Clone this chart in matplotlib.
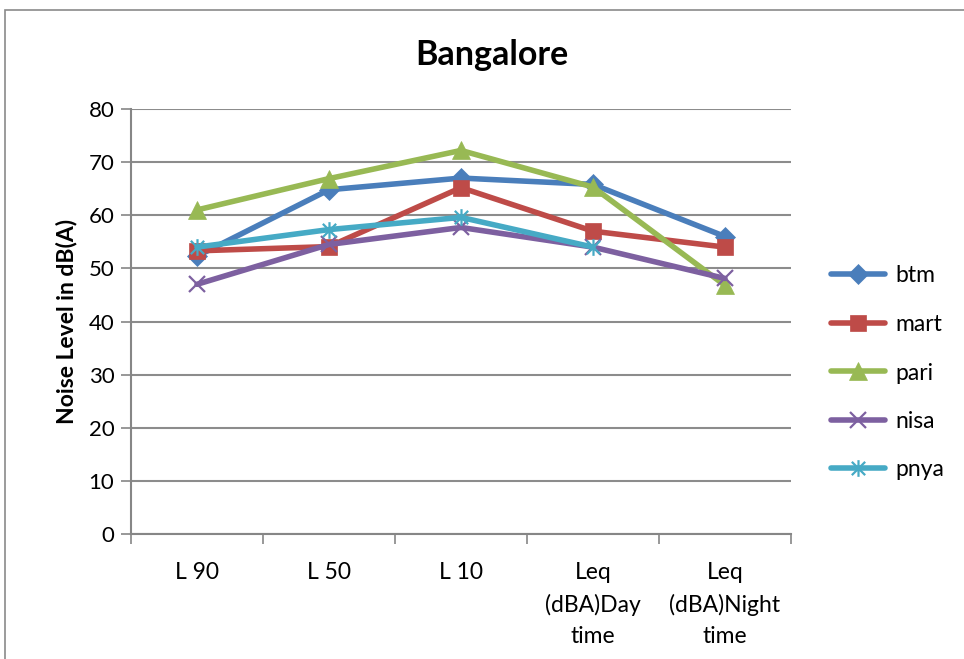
import matplotlib.pyplot as plt
from matplotlib.patches import Rectangle
from matplotlib.path import Path

categories = ['L 90', 'L 50', 'L 10', 'Leq\n(dBA)Day\ntime', 'Leq\n(dBA)Night\ntime']

btm = [52.3, 64.8, 67.0, 65.8, 56.0]
mart = [53.3, 54.1, 65.2, 57.0, 54.0]
pari = [61.0, 66.9, 72.2, 65.3, 46.8]
nisa = [47.0, 54.5, 57.7, 54.0, 48.1]
pnya = [54.0, 57.3, 59.6, 54.0]

plt.rcParams['font.family'] = ['Lato', 'DejaVu Sans']

# Excel-style star: vertical stroke plus an X
star = Path([(0, -1), (0, 1), (-0.8, -0.8), (0.8, 0.8), (-0.8, 0.8), (0.8, -0.8)],
            [Path.MOVETO, Path.LINETO, Path.MOVETO, Path.LINETO, Path.MOVETO, Path.LINETO])

series = [
    ('btm', btm, '#4A7EBB', 'D', 10.5),
    ('mart', mart, '#BE4B48', 's', 11.5),
    ('pari', pari, '#98B954', '^', 12.5),
    ('nisa', nisa, '#7D60A0', 'x', 12),
    ('pnya', pnya, '#46AAC5', star, 12),
]

fig = plt.figure(figsize=(9.64, 6.59), dpi=100)
ax = fig.add_axes([131 / 964, 1 - 534 / 659, 660 / 964, 425 / 659])

fig.patches.append(Rectangle((5 / 964, -0.1), 1.2, 1.1 - 10 / 659, transform=fig.transFigure,
                             fill=False, edgecolor='#8a8a8a', lw=1.2))

x = list(range(len(categories)))
for name, vals, color, marker, ms in series:
    thin = marker in ('x',) or isinstance(marker, Path)
    ax.plot(x[:len(vals)], vals, color=color, lw=4, marker=marker, markersize=ms,
            markeredgewidth=1.6 if thin else 0.5, markeredgecolor=color,
            markerfacecolor=color, label=name, solid_capstyle='round', zorder=3)

ax.set_xlim(-0.5, len(categories) - 0.5)
ax.set_ylim(0, 80)
ax.set_yticks(range(0, 81, 10))
ax.set_xticks(x)
ax.set_xticklabels(categories, fontsize=16.5, linespacing=1.6, va='top')
ax.set_xticks([i - 0.5 for i in range(len(categories) + 1)], minor=True)
ax.tick_params(axis='x', which='major', length=0, pad=20)
ax.tick_params(axis='x', which='minor', length=7, color='#868686', width=1.2)
ax.tick_params(axis='y', length=7, color='#868686', width=1.2, labelsize=16, pad=5)

ax.grid(axis='y', color='#8c8c8c', lw=1.5)
ax.set_axisbelow(True)
for side in ('top', 'right'):
    ax.spines[side].set_visible(False)
for side in ('left', 'bottom'):
    ax.spines[side].set_color('#868686')
    ax.spines[side].set_linewidth(1.5)

ax.set_ylabel('Noise Level in dB(A)', fontsize=16.5, fontweight='bold', labelpad=8)
fig.text(492 / 964, 1 - 55 / 659, 'Bangalore', fontsize=24.5, fontweight='bold',
         ha='center', va='center')

fig.legend(loc='center left', bbox_to_anchor=(831 / 964, 1 - 373 / 659),
           bbox_transform=fig.transFigure, frameon=False, fontsize=16.5,
           handlelength=2.35, handletextpad=0.48, labelspacing=1.2,
           borderpad=0, borderaxespad=0)

fig.savefig('out.png', dpi=100)
